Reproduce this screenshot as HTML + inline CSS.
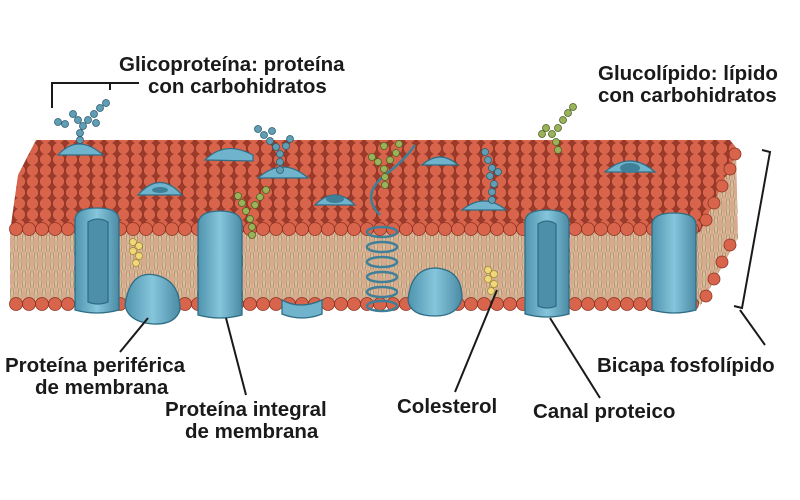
<!DOCTYPE html>
<html><head><meta charset="utf-8"><style>
html,body{margin:0;padding:0;background:#fff;}
svg{display:block}
text{font-family:"Liberation Sans",sans-serif;font-weight:bold;font-size:20.5px;fill:#1a1a1a}
</style></head><body>
<svg width="800" height="500" viewBox="0 0 800 500" xmlns="http://www.w3.org/2000/svg">
<defs>
<pattern id="heads" width="13" height="11" patternUnits="userSpaceOnUse">
<rect width="13" height="11" fill="#9c3a2b"/>
<circle cx="6.5" cy="5.5" r="6" fill="#d8644c" stroke="#8e3424" stroke-width="0.7"/>
</pattern>
<pattern id="tails" width="8" height="36" patternUnits="userSpaceOnUse">
<rect width="8" height="36" fill="#d9a88e"/>
<path d="M2 0 q2 9 0 18 q-2 9 0 18" stroke="#e9dcb0" stroke-width="1.6" fill="none"/>
<path d="M6 0 q-2 9 0 18 q2 9 0 18" stroke="#e9dcb0" stroke-width="1.6" fill="none"/>
<path d="M2 0 q2 9 0 18 q-2 9 0 18" stroke="#6e5a3a" stroke-width="0.5" fill="none"/>
<path d="M6 0 q-2 9 0 18 q2 9 0 18" stroke="#6e5a3a" stroke-width="0.5" fill="none"/>
</pattern>
<linearGradient id="pg" x1="0" x2="1"><stop offset="0" stop-color="#4f93ad"/><stop offset="0.5" stop-color="#86c6dc"/><stop offset="1" stop-color="#4a8aa4"/></linearGradient>
<g id="row1">
<circle cx="16" cy="0" r="6.5"/><circle cx="29" cy="0" r="6.5"/><circle cx="42" cy="0" r="6.5"/><circle cx="55" cy="0" r="6.5"/><circle cx="68" cy="0" r="6.5"/><circle cx="81" cy="0" r="6.5"/><circle cx="94" cy="0" r="6.5"/><circle cx="107" cy="0" r="6.5"/><circle cx="120" cy="0" r="6.5"/><circle cx="133" cy="0" r="6.5"/><circle cx="146" cy="0" r="6.5"/><circle cx="159" cy="0" r="6.5"/><circle cx="172" cy="0" r="6.5"/><circle cx="185" cy="0" r="6.5"/><circle cx="198" cy="0" r="6.5"/><circle cx="211" cy="0" r="6.5"/><circle cx="224" cy="0" r="6.5"/><circle cx="237" cy="0" r="6.5"/><circle cx="250" cy="0" r="6.5"/><circle cx="263" cy="0" r="6.5"/><circle cx="276" cy="0" r="6.5"/><circle cx="289" cy="0" r="6.5"/><circle cx="302" cy="0" r="6.5"/><circle cx="315" cy="0" r="6.5"/><circle cx="328" cy="0" r="6.5"/><circle cx="341" cy="0" r="6.5"/><circle cx="354" cy="0" r="6.5"/><circle cx="367" cy="0" r="6.5"/><circle cx="380" cy="0" r="6.5"/><circle cx="393" cy="0" r="6.5"/><circle cx="406" cy="0" r="6.5"/><circle cx="419" cy="0" r="6.5"/><circle cx="432" cy="0" r="6.5"/><circle cx="445" cy="0" r="6.5"/><circle cx="458" cy="0" r="6.5"/><circle cx="471" cy="0" r="6.5"/><circle cx="484" cy="0" r="6.5"/><circle cx="497" cy="0" r="6.5"/><circle cx="510" cy="0" r="6.5"/><circle cx="523" cy="0" r="6.5"/><circle cx="536" cy="0" r="6.5"/><circle cx="549" cy="0" r="6.5"/><circle cx="562" cy="0" r="6.5"/><circle cx="575" cy="0" r="6.5"/><circle cx="588" cy="0" r="6.5"/><circle cx="601" cy="0" r="6.5"/><circle cx="614" cy="0" r="6.5"/><circle cx="627" cy="0" r="6.5"/><circle cx="640" cy="0" r="6.5"/><circle cx="653" cy="0" r="6.5"/><circle cx="666" cy="0" r="6.5"/><circle cx="679" cy="0" r="6.5"/><circle cx="692" cy="0" r="6.5"/>
</g>
</defs>

<!-- front face -->
<rect x="10" y="228" width="692" height="76" fill="url(#tails)"/>
<!-- right side -->
<polygon points="698,230 736,148 738,238 700,306" fill="url(#tails)"/>
<!-- top surface -->
<polygon points="10,232 18,175 36,140 730,140 738,150 700,232" fill="url(#heads)"/>
<!-- heads rows front -->
<g fill="#d8644c" stroke="#8e3424" stroke-width="0.8">
<use href="#row1" transform="translate(0,229)"/>
<use href="#row1" transform="translate(0,304)"/>
<circle cx="706" cy="220" r="6"/><circle cx="714" cy="203" r="6"/><circle cx="722" cy="186" r="6"/><circle cx="730" cy="169" r="6"/><circle cx="735" cy="154" r="6"/>
<circle cx="706" cy="296" r="6"/><circle cx="714" cy="279" r="6"/><circle cx="722" cy="262" r="6"/><circle cx="730" cy="245" r="6"/>
</g>

<!-- top bumps -->
<g fill="#6fb3cc" stroke="#2f6d85" stroke-width="1.2">
<path d="M58 155 q20 -22 45 0 z"/>
<path d="M138 195 q22 -25 44 0 z"/>
<path d="M258 178 q25 -22 50 0 z"/>
<path d="M315 205 q20 -20 40 0 z"/>
<path d="M422 165 q18 -16 36 0 z"/>
<path d="M462 210 q22 -18 44 0 z"/>
<path d="M605 172 q25 -22 50 0 z"/>
<path d="M205 160 q20 -20 48 -5 l0 6 z"/>
</g>
<g fill="#3f7f98"><ellipse cx="335" cy="199" rx="9" ry="4"/><ellipse cx="630" cy="168" rx="10" ry="5"/><ellipse cx="160" cy="190" rx="8" ry="3"/></g>

<!-- integral proteins -->
<g stroke="#2f6d85" stroke-width="1.3">
<path d="M75 220 q0 -12 22 -12 q22 0 22 12 l0 90 q-22 6 -44 0 z" fill="url(#pg)"/>
<path d="M88 222 q10 -6 20 0 l0 80 q-10 4 -20 0 z" fill="#4d8fa9"/>
<path d="M198 225 q0 -14 22 -14 q22 0 22 14 l0 90 q-22 6 -44 0 z" fill="url(#pg)"/>
<path d="M525 222 q0 -12 22 -12 q22 0 22 12 l0 92 q-22 6 -44 0 z" fill="url(#pg)"/>
<path d="M538 224 q9 -6 18 0 l0 82 q-9 4 -18 0 z" fill="#4d8fa9"/>
<path d="M652 225 q0 -12 22 -12 q22 0 22 12 l0 85 q-22 6 -44 0 z" fill="url(#pg)"/>
<path d="M125 305 q5 -35 30 -30 q25 5 25 35 q-5 15 -27 14 q-25 -2 -28 -19 z" fill="url(#pg)"/>
<path d="M408 300 q3 -32 28 -32 q26 2 26 30 q-4 18 -27 18 q-25 0 -27 -16 z" fill="url(#pg)"/>
<path d="M282 300 q18 10 40 0 l0 14 q-20 8 -40 0 z" fill="#6fb3cc"/>
</g>

<!-- helix -->
<g fill="none" stroke="#3f7f98" stroke-width="2.5">
<path d="M380 215 q-20 -20 5 -40 q20 -15 30 -30"/>
<ellipse cx="382" cy="232" rx="15" ry="5"/><ellipse cx="382" cy="247" rx="15" ry="5"/>
<ellipse cx="382" cy="262" rx="15" ry="5"/><ellipse cx="382" cy="277" rx="15" ry="5"/>
<ellipse cx="382" cy="292" rx="15" ry="5"/><ellipse cx="382" cy="306" rx="15" ry="5"/>
</g>

<!-- carbohydrate chains -->
<g stroke="#2e5d70" stroke-width="0.8" fill="#5f9eb5">
<circle cx="80" cy="140" r="3.5"/><circle cx="80" cy="133" r="3.5"/><circle cx="83" cy="126" r="3.5"/><circle cx="88" cy="120" r="3.5"/><circle cx="94" cy="114" r="3.5"/><circle cx="100" cy="108" r="3.5"/><circle cx="106" cy="103" r="3.5"/><circle cx="78" cy="120" r="3.5"/><circle cx="73" cy="114" r="3.5"/><circle cx="58" cy="122" r="3.5"/><circle cx="65" cy="124" r="3.5"/><circle cx="96" cy="123" r="3.5"/>
<circle cx="280" cy="170" r="3.5"/><circle cx="280" cy="162" r="3.5"/><circle cx="280" cy="154" r="3.5"/><circle cx="276" cy="147" r="3.5"/><circle cx="270" cy="141" r="3.5"/><circle cx="264" cy="135" r="3.5"/><circle cx="258" cy="129" r="3.5"/><circle cx="286" cy="146" r="3.5"/><circle cx="290" cy="139" r="3.5"/><circle cx="272" cy="131" r="3.5"/>
<circle cx="492" cy="200" r="3.5"/><circle cx="492" cy="192" r="3.5"/><circle cx="494" cy="184" r="3.5"/><circle cx="490" cy="176" r="3.5"/><circle cx="492" cy="168" r="3.5"/><circle cx="488" cy="160" r="3.5"/><circle cx="485" cy="152" r="3.5"/><circle cx="498" cy="172" r="3.5"/>
</g>
<g stroke="#4e6222" stroke-width="0.8" fill="#9ab35a">
<circle cx="385" cy="185" r="3.5"/><circle cx="385" cy="177" r="3.5"/><circle cx="384" cy="169" r="3.5"/><circle cx="378" cy="162" r="3.5"/><circle cx="372" cy="157" r="3.5"/><circle cx="390" cy="160" r="3.5"/><circle cx="396" cy="153" r="3.5"/><circle cx="384" cy="146" r="3.5"/><circle cx="399" cy="144" r="3.5"/>
<circle cx="252" cy="235" r="3.5"/><circle cx="252" cy="227" r="3.5"/><circle cx="250" cy="219" r="3.5"/><circle cx="246" cy="211" r="3.5"/><circle cx="242" cy="203" r="3.5"/><circle cx="255" cy="205" r="3.5"/><circle cx="260" cy="197" r="3.5"/><circle cx="266" cy="190" r="3.5"/><circle cx="238" cy="196" r="3.5"/>
<circle cx="558" cy="150" r="3.5"/><circle cx="556" cy="142" r="3.5"/><circle cx="552" cy="134" r="3.5"/><circle cx="546" cy="128" r="3.5"/><circle cx="558" cy="128" r="3.5"/><circle cx="563" cy="120" r="3.5"/><circle cx="568" cy="113" r="3.5"/><circle cx="573" cy="107" r="3.5"/><circle cx="542" cy="134" r="3.5"/>
</g>
<!-- cholesterol -->
<g fill="#efd77a" stroke="#a08a30" stroke-width="0.7">
<circle cx="133" cy="242" r="3.5"/><circle cx="139" cy="246" r="3.5"/><circle cx="133" cy="251" r="3.5"/><circle cx="139" cy="256" r="3.5"/><circle cx="136" cy="263" r="3.5"/>
<circle cx="488" cy="270" r="3.5"/><circle cx="494" cy="274" r="3.5"/><circle cx="488" cy="279" r="3.5"/><circle cx="494" cy="284" r="3.5"/><circle cx="491" cy="291" r="3.5"/>
</g>

<!-- leader lines -->
<g stroke="#1a1a1a" stroke-width="2" fill="none">
<path d="M52 108 L52 83 L139 83"/>
<path d="M110 83 L110 90"/>
<path d="M148 318 L120 352"/>
<path d="M226 318 L246 395"/>
<path d="M497 290 L455 392"/>
<path d="M550 318 L600 398"/>
<path d="M762 150 L770 152 L742 308 L734 306"/>
<path d="M740 310 L765 345"/>
</g>

<text x="119" y="71">Glicoproteína: proteína</text>
<text x="148" y="93">con carbohidratos</text>
<text x="598" y="80">Glucolípido: lípido</text>
<text x="598" y="102">con carbohidratos</text>
<text x="5" y="372">Proteína periférica</text>
<text x="35" y="394">de membrana</text>
<text x="165" y="416">Proteína integral</text>
<text x="185" y="438">de membrana</text>
<text x="397" y="413">Colesterol</text>
<text x="533" y="418">Canal proteico</text>
<text x="597" y="372">Bicapa fosfolípido</text>
</svg>
</body></html>
